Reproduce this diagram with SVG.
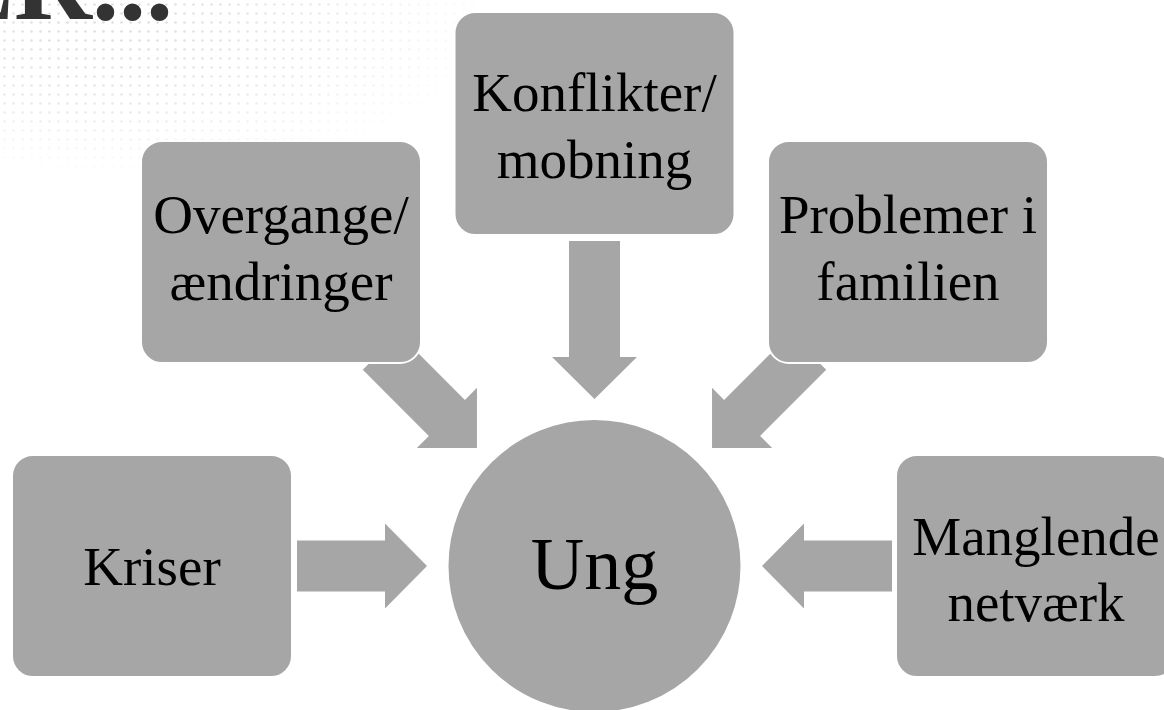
<svg xmlns="http://www.w3.org/2000/svg" width="1164" height="710" viewBox="0 0 1164 710">
  <style>
    .box { fill: #a6a6a6; stroke: #ffffff; stroke-width: 2; }
    .arrow { fill: #a6a6a6; }
    .label { font-family: "Liberation Serif", "Times New Roman", serif; font-size: 55px; fill: #000000; text-anchor: middle; }
    .title { font-family: "Liberation Serif", "Times New Roman", serif; font-weight: bold; font-size: 108px; fill: #333333; text-anchor: end; }
  </style>
  <defs>
    <pattern id="dots" width="9" height="9" patternUnits="userSpaceOnUse">
      <circle cx="4.5" cy="4.5" r="1.3" fill="#dcdcdc"/>
    </pattern>
    <radialGradient id="fade" cx="110" cy="30" r="330" gradientUnits="userSpaceOnUse" gradientTransform="translate(110 30) scale(1.2 0.45) translate(-110 -30)">
      <stop offset="0" stop-color="#ffffff" stop-opacity="1"/>
      <stop offset="0.55" stop-color="#ffffff" stop-opacity="0.6"/>
      <stop offset="1" stop-color="#ffffff" stop-opacity="0"/>
    </radialGradient>
    <mask id="dotMask">
      <rect x="0" y="0" width="520" height="170" fill="url(#fade)"/>
    </mask>
  </defs>

  <rect width="1164" height="710" fill="#ffffff"/>

  <!-- halftone backdrop in the upper left corner -->
  <rect x="0" y="0" width="520" height="170" fill="url(#dots)" mask="url(#dotMask)"/>

  <!-- heading, cut by the top edge -->
  <text class="title" x="173" y="19">ER...</text>

  <!-- block arrows pointing at the centre -->
  <g id="connectors">
    <path class="arrow" transform="translate(297 566)" d="M0,-25.5 H88 V-42.5 L130,0 L88,42.5 V25.5 H0 Z"/>
    <path class="arrow" transform="translate(892 566) rotate(180)" d="M0,-25.5 H88 V-42.5 L130,0 L88,42.5 V25.5 H0 Z"/>
    <path class="arrow" transform="translate(594.5 241) rotate(90)" d="M0,-25.5 H116 V-42.5 L158,0 L116,42.5 V25.5 H0 Z"/>
    <path class="arrow" transform="translate(380.8 351.8) rotate(45)" d="M0,-25.5 H93.5 V-42.5 L136,0 L93.5,42.5 V25.5 H0 Z"/>
    <path class="arrow" transform="translate(808.2 351.8) rotate(135)" d="M0,-25.5 H93.5 V-42.5 L136,0 L93.5,42.5 V25.5 H0 Z"/>
  </g>

  <g id="node-kriser">
    <rect class="box" x="12" y="455" width="280" height="222" rx="21"/>
    <text class="label" x="152" y="585">Kriser</text>
  </g>

  <g id="node-overgange">
    <rect class="box" x="141" y="141" width="280" height="222" rx="21"/>
    <text class="label" x="281" y="233">Overgange/</text>
    <text class="label" x="281" y="300">ændringer</text>
  </g>

  <g id="node-konflikter">
    <rect class="box" x="454.5" y="12" width="280" height="223" rx="21"/>
    <text class="label" x="594.5" y="111">Konflikter/</text>
    <text class="label" x="594.5" y="178">mobning</text>
  </g>

  <g id="node-problemer">
    <rect class="box" x="768" y="141" width="280" height="222" rx="21"/>
    <text class="label" x="908" y="233">Problemer i</text>
    <text class="label" x="908" y="300">familien</text>
  </g>

  <g id="node-manglende">
    <rect class="box" x="896" y="455" width="280" height="222" rx="21"/>
    <text class="label" x="1036" y="555">Manglende</text>
    <text class="label" x="1036" y="621">netværk</text>
  </g>

  <g id="node-ung">
    <circle class="box" cx="594.5" cy="566" r="147"/>
    <text class="label" x="594.5" y="589" style="font-size:74px">Ung</text>
  </g>
</svg>
